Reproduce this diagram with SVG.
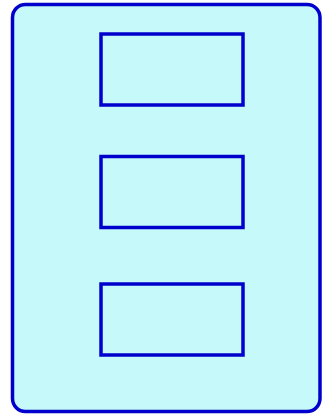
<svg xmlns="http://www.w3.org/2000/svg" width="324" height="414" viewBox="0 0 324 414">
<style>
.box{fill:#c6fafa;stroke:#0000cc;stroke-width:3.5}
</style>
<rect width="324" height="414" fill="#ffffff"/>
<g id="container">
<rect class="box" x="12.5" y="4.5" width="307.5" height="407" rx="13" ry="13"/>
</g>
<g id="node1">
<rect class="box" x="101" y="34" width="142" height="71"/>
</g>
<g id="node2">
<rect class="box" x="101" y="156.5" width="142" height="71"/>
</g>
<g id="node3">
<rect class="box" x="101" y="284" width="142" height="71"/>
</g>
<g id="connectors"></g>
</svg>
